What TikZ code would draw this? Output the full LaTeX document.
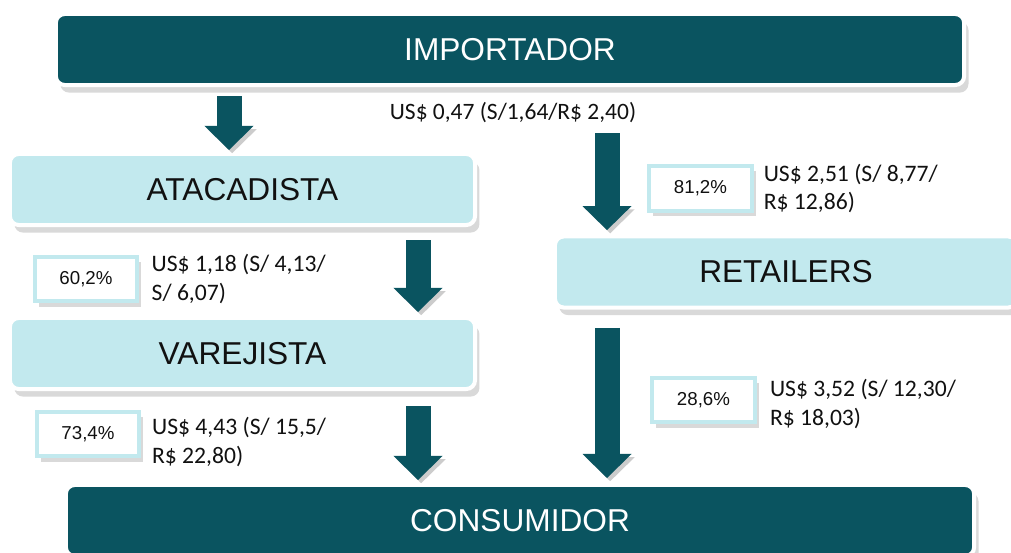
\documentclass[tikz,border=0pt]{standalone}
\usepackage{fontspec}
\setmainfont{Liberation Sans}
\newfontfamily\calibri{Carlito}
\usetikzlibrary{positioning, shadows, arrows.meta}
\definecolor{TealEsc}  {HTML}{0A5460}
\definecolor{TealClaro}{HTML}{C2E9EE}
\definecolor{TxtEsc}   {HTML}{111111}

\tikzset{
  caixa/.style={draw=white, line width=1mm, rounded corners=2.2mm,
        inner sep=0pt, outer sep=0pt, minimum height=1.775cm,
        font=\fontsize{22.5}{27}\selectfont,
        drop shadow={shadow xshift=1.1mm, shadow yshift=-1.9mm, opacity=0.3}},
  caixaEsc/.style={caixa, fill=TealEsc, text=white, minimum width=22.7cm},
  caixaClara/.style={caixa, fill=TealClaro, text=TxtEsc, minimum width=11.625cm},
  pct/.style={fill=white, draw=TealClaro, line width=1mm,
        minimum width=2.55cm, minimum height=1.12cm,
        inner sep=0pt, outer sep=0pt, text=TxtEsc,
        font=\fontsize{13.3}{16}\selectfont,
        drop shadow={shadow xshift=1mm, shadow yshift=-1.3mm, opacity=0.3}},
  valor/.style={align=left, inner sep=0pt, text=TxtEsc,
        font=\calibri\fontsize{16.8}{20}\selectfont},
  seta/.style={draw=TealEsc, line width=0.625cm,
        -{Triangle[width=1.225cm, length=0.6cm, line width=0pt]},
        preaction={draw=black, opacity=0.2,
          transform canvas={xshift=0.8mm, yshift=-0.8mm}}},
}

\begin{document}
\begin{tikzpicture}[x=0.025cm, y=-0.025cm]
  \useasboundingbox (0,0) rectangle (1011,552);

  % ── caixas ──
  \node[caixaEsc] (imp) at (510,49.5) {IMPORTADOR};
  \node[caixaClara] (ata) at (242.5,189.5) {ATACADISTA};
  \node[caixaClara] (var) at (242.5,353.5) {VAREJISTA};
  \node[caixaClara, minimum width=11.55cm] (ret) at (786,272) {RETAILERS};
  \node[caixaEsc] (con) at (520,520.5) {CONSUMIDOR};

  % ── colunas das setas ──
  \coordinate (colA) at (229,0);
  \coordinate (colB) at (418,0);
  \coordinate (colC) at (607,0);

  % ── setas ──
  \draw[seta] ([yshift=-2.75mm]imp.south -| colA) -- ([yshift=1mm]ata.north -| colA);
  \draw[seta] ([yshift=-12mm]imp.south -| colC) -- ([yshift=1.6mm]ret.north -| colC);
  \draw[seta] ([yshift=-3.75mm]ata.south -| colB) -- ([yshift=1.5mm]var.north -| colB);
  \draw[seta] ([yshift=-4.25mm]var.south -| colB) -- ([yshift=1.25mm]con.north -| colB);
  \draw[seta] ([yshift=-5.1mm]ret.south -| colC) -- ([yshift=1.75mm]con.north -| colC);

  % ── rótulo do importador ──
  \node[valor, font=\calibri\fontsize{16.7}{20}\selectfont] (lbl0) at (513,113)
        {US\$ 0,47 (S/1,64/R\$ 2,40)};

  % ── percentuais e valores ──
  \node[pct] (p1) at (86,279) {60,2\%};
  \node[valor, right=3.6mm of p1] (v1) {US\$ 1,18 (S/ 4,13/\\S/ 6,07)};

  \node[pct] (p2) at (700.5,188.5) {81,2\%};
  \node[valor, right=3mm of p2] (v2) {US\$ 2,51 (S/ 8,77/\\R\$ 12,86)};

  \node[pct] (p3) at (88,434) {73,4\%};
  \node[valor, right=3.2mm of p3, yshift=-2mm] (v3) {US\$ 4,43 (S/ 15,5/\\R\$ 22,80)};

  \node[pct] (p4) at (703.5,400) {28,6\%};
  \node[valor, right=3.8mm of p4, yshift=-1mm] (v4) {US\$ 3,52 (S/ 12,30/\\R\$ 18,03)};
\end{tikzpicture}
\end{document}
